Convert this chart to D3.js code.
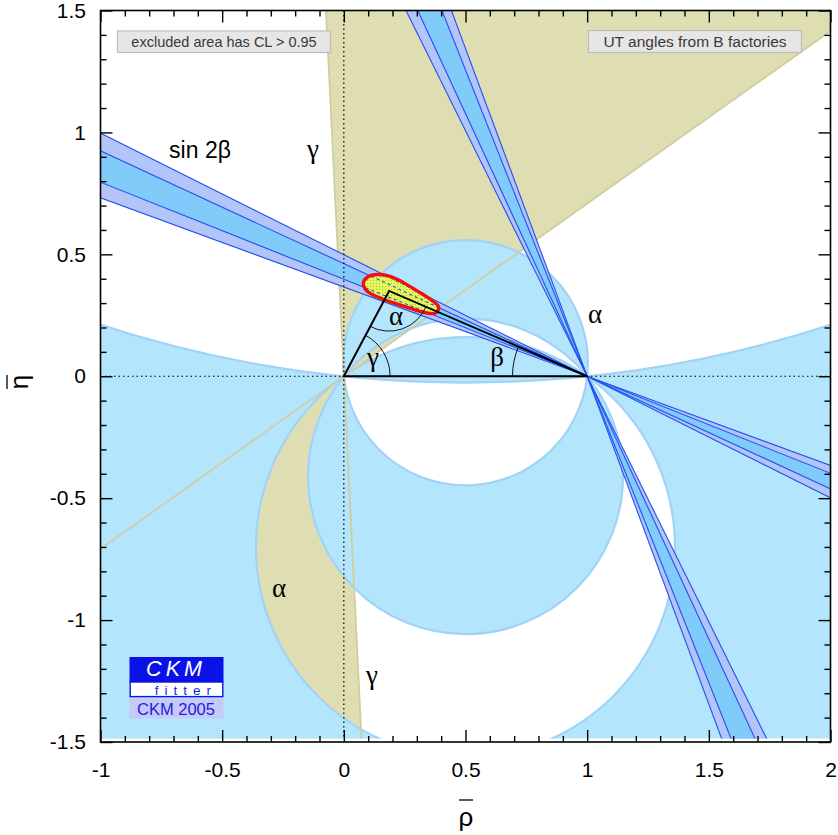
<!DOCTYPE html>
<html><head><meta charset="utf-8">
<script src="https://cdn.jsdelivr.net/npm/d3@7"></script>
<style>body{margin:0;background:#fff} svg{display:block}</style>
</head><body><svg id="c" width="838" height="835"></svg>
<script>
// ---------------- data ----------------
const rhoMajorTicks = [-1, -0.5, 0, 0.5, 1, 1.5, 2];
const rhoTickLabels = ["-1", "-0.5", "0", "0.5", "1", "1.5", "2"];
const etaMajorTicks = [-1.5, -1, -0.5, 0, 0.5, 1, 1.5];
const etaTickLabels = ["-1.5", "-1", "-0.5", "0", "0.5", "1", "1.5"];
// alpha allowed ranges (degrees, modulo 180)
const alphaBandsDeg = [[83.7, 129.4], [144.5, 185.9]];
// gamma allowed range (degrees) and its mirror (+180)
const gammaRangeDeg = [35.3, 92.8];
// sin2beta solutions (degrees): outer / inner bands
const beta1OuterDeg = [20.1, 26.5];
const beta1InnerDeg = [21.7, 24.8];
const beta2OuterDeg = [63.6, 69.6];
const beta2InnerDeg = [65.1, 68.3];
// best fit apex
const apexRho = 0.186, apexEta = 0.350;
// combined fit contour
const fitRho = [0.080, 0.098, 0.140, 0.190, 0.243, 0.298, 0.352, 0.390, 0.377, 0.328, 0.272, 0.216, 0.160, 0.112, 0.088];
const fitEta = [0.382, 0.407, 0.417, 0.410, 0.385, 0.352, 0.318, 0.284, 0.259, 0.262, 0.279, 0.297, 0.317, 0.338, 0.357];

// ---------------- setup ----------------
const svg = d3.select("#c");
const L = 100.5, R = 830.5, T = 10.5, B = 742;
const x = d3.scaleLinear([-1, 2], [L, R]);
const y = d3.scaleLinear([-1.5, 1.5], [B, T]);
const rad = d => d * Math.PI / 180;

const defs = svg.append("defs");
defs.append("clipPath").attr("id", "plot").append("rect")
  .attr("x", L).attr("y", T).attr("width", R - L).attr("height", 738.5 - T);
const pat = defs.append("pattern").attr("id", "dots").attr("patternUnits", "userSpaceOnUse")
  .attr("width", 3).attr("height", 3);
pat.append("rect").attr("width", 3).attr("height", 3).attr("fill", "#e8f65c");
pat.append("rect").attr("x", 1).attr("y", 1).attr("width", 1).attr("height", 1).attr("fill", "#9ccc3a");

const g = svg.append("g").attr("clip-path", "url(#plot)");

function circPath(c) {
  const r = Math.sqrt(0.25 + c * c);
  const cx = x(0.5), cy = y(c), rx = x(0.5 + r) - x(0.5), ry = y(c) - y(c + r);
  return `M${cx - rx},${cy}A${rx},${ry} 0 1 0 ${cx + rx},${cy}A${rx},${ry} 0 1 0 ${cx - rx},${cy}Z`;
}
const cOf = a => 0.5 / Math.tan(rad(a));
const bigRect = `M0,0H838V835H0Z`;

// gamma wedges (olive)
function wedge(ox, oy, a1, a2, Rr) {
  const p = [[ox, oy]];
  [a1, (a1 + a2) / 2, a2].forEach(a => p.push([ox + Rr * Math.cos(rad(a)), oy + Rr * Math.sin(rad(a))]));
  return "M" + p.map(q => x(q[0]) + "," + y(q[1])).join("L") + "Z";
}
[0, 180].forEach(off => {
  g.append("path").attr("d", wedge(0, 0, gammaRangeDeg[0] + off, gammaRangeDeg[1] + off, 12))
    .attr("fill", "#dfdeb2");
});

// alpha bands
alphaBandsDeg.forEach(([a1, a2]) => {
  let d;
  if (a2 <= 180) d = circPath(cOf(a1)) + circPath(cOf(a2));
  else d = bigRect + circPath(cOf(a1)) + circPath(cOf(a2 - 180));
  g.append("path").attr("d", d).attr("fill", "#b3e5fc").attr("fill-rule", "evenodd");
});
alphaBandsDeg.forEach(([a1, a2]) => {
  [a1, a2 > 180 ? a2 - 180 : a2].forEach(a => {
    g.append("path").attr("d", circPath(cOf(a))).attr("fill", "none")
      .attr("stroke", "#a2d2f7").attr("stroke-width", 2.2);
  });
});

// gamma edge lines
gammaRangeDeg.forEach(a => {
  const dx = Math.cos(rad(a)) * 12, dy = Math.sin(rad(a)) * 12;
  g.append("line").attr("x1", x(-dx)).attr("y1", y(-dy)).attr("x2", x(dx)).attr("y2", y(dy))
    .attr("stroke", "#cfcea0").attr("stroke-width", 1.8);
});

// sin2beta bands
function betaBand(b1, b2) {
  const P = [1, 0], Rr = 12;
  const d1 = [-Math.cos(rad(b1)), Math.sin(rad(b1))], d2 = [-Math.cos(rad(b2)), Math.sin(rad(b2))];
  const pt = (s, dd) => x(P[0] + s * Rr * dd[0]) + "," + y(P[1] + s * Rr * dd[1]);
  const p0 = x(P[0]) + "," + y(P[1]);
  return `M${pt(1, d1)}L${pt(1, d2)}L${p0}ZM${pt(-1, d1)}L${pt(-1, d2)}L${p0}Z`;
}
function betaLine(b) {
  const Rr = 12, dx = -Math.cos(rad(b)) * Rr, dy = Math.sin(rad(b)) * Rr;
  return [x(1 - dx), y(-dy), x(1 + dx), y(dy)];
}
[beta1OuterDeg, beta2OuterDeg].forEach(b => g.append("path").attr("d", betaBand(b[0], b[1])).attr("fill", "#b3c4f8"));
[beta1InnerDeg, beta2InnerDeg].forEach(b => g.append("path").attr("d", betaBand(b[0], b[1])).attr("fill", "#80cbfa"));
const allBetaEdges = [...beta1OuterDeg, ...beta1InnerDeg, ...beta2OuterDeg, ...beta2InnerDeg];
allBetaEdges.forEach(b => {
  const l = betaLine(b);
  g.append("line").attr("x1", l[0]).attr("y1", l[1]).attr("x2", l[2]).attr("y2", l[3])
    .attr("stroke", "#2250f0").attr("stroke-width", 1.1);
});

// fit contour
const fitPts = fitRho.map((r, i) => [x(r), y(fitEta[i])]);
const blobD = d3.line().curve(d3.curveCatmullRomClosed)(fitPts);
defs.append("clipPath").attr("id", "blob").append("path").attr("d", blobD);
g.append("path").attr("d", blobD).attr("fill", "url(#dots)");
const gb = g.append("g").attr("clip-path", "url(#blob)");
[...beta1OuterDeg, ...beta1InnerDeg].forEach(b => {
  const l = betaLine(b);
  gb.append("line").attr("x1", l[0]).attr("y1", l[1]).attr("x2", l[2]).attr("y2", l[3])
    .attr("stroke", "#2250f0").attr("stroke-width", 1.1).attr("stroke-dasharray", "3,3");
});
g.append("path").attr("d", blobD).attr("fill", "none").attr("stroke", "#f01010").attr("stroke-width", 3.4);

// dotted axes lines
g.append("line").attr("x1", x(0)).attr("x2", x(0)).attr("y1", T).attr("y2", B)
  .attr("stroke", "#000").attr("stroke-width", 1.2).attr("stroke-dasharray", "1.5,3");
g.append("line").attr("x1", L).attr("x2", R).attr("y1", y(0)).attr("y2", y(0))
  .attr("stroke", "#000").attr("stroke-width", 1.2).attr("stroke-dasharray", "1.5,3");

// triangle
g.append("path").attr("d", `M${x(0)},${y(0)}L${x(apexRho)},${y(apexEta)}L${x(1)},${y(0)}Z`)
  .attr("fill", "none").attr("stroke", "#000").attr("stroke-width", 2).attr("stroke-linejoin", "miter");
function arcPath(cx, cy, r, a0, a1) {
  const p0 = [x(cx + r * Math.cos(rad(a0))), y(cy + r * Math.sin(rad(a0)))];
  const p1 = [x(cx + r * Math.cos(rad(a1))), y(cy + r * Math.sin(rad(a1)))];
  const rp = x(r) - x(0);
  return `M${p0}A${rp},${rp} 0 0 0 ${p1}`;
}
const gam = Math.atan2(apexEta, apexRho) * 180 / Math.PI;
const bet = Math.atan2(apexEta, 1 - apexRho) * 180 / Math.PI;
const toA = Math.atan2(-apexEta, -apexRho) * 180 / Math.PI + 360;
const toB = Math.atan2(-apexEta, 1 - apexRho) * 180 / Math.PI + 360;
[[0, 0, 0.19, 0, gam], [1, 0, 0.307, 180 - bet, 180], [apexRho, apexEta, 0.165, toA, toB]].forEach(a => {
  g.append("path").attr("d", arcPath(...a)).attr("fill", "none").attr("stroke", "#000").attr("stroke-width", 0.9);
});

// greek labels
const greek = (px, py, t, fs) => svg.append("text").attr("x", px).attr("y", py).text(t)
  .attr("font-family", "Liberation Serif, serif").attr("font-size", fs || 27).attr("text-anchor", "middle").attr("fill", "#000");
greek(396, 325, "α");
greek(373, 366, "γ");
greek(497, 366, "β");
greek(595, 323, "α");
greek(313, 158, "γ");
greek(279, 597, "α");
greek(372, 684, "γ");
svg.append("text").attr("x", 200).attr("y", 158).text("sin 2β").attr("font-family", "Liberation Sans, Arial, sans-serif")
  .attr("font-size", 23).attr("text-anchor", "middle").attr("fill", "#000");

// ---------------- axes ----------------
const fontAx = "Liberation Sans, Arial, sans-serif";
const minorR = d3.range(-10, 21).map(i => i / 10).filter(v => Math.abs(v * 2 - Math.round(v * 2)) > 1e-6);
const minorE = d3.range(-15, 16).map(i => i / 10).filter(v => Math.abs(v * 2 - Math.round(v * 2)) > 1e-6);
function addAxis(axisFn, scale, major, labels, minor, tr, labeled) {
  const a = axisFn(scale).tickValues(major).tickSizeInner(-12).tickSizeOuter(0)
    .tickFormat((d, i) => labeled ? labels[i] : "").tickPadding(labeled ? 20 : 0);
  const ga = svg.append("g").attr("transform", tr).call(a);
  ga.select(".domain").remove();
  const m = axisFn(scale).tickValues(minor).tickSizeInner(-6).tickSizeOuter(0).tickFormat("");
  const gm = svg.append("g").attr("transform", tr).call(m);
  gm.select(".domain").remove();
  [ga, gm].forEach(q => q.selectAll("line").attr("stroke", "#000").attr("stroke-width", 1.4));
  ga.selectAll("text").attr("font-family", fontAx).attr("font-size", 21).attr("fill", "#000");
  return ga;
}
addAxis(d3.axisBottom, x, rhoMajorTicks, rhoTickLabels, minorR, `translate(0,${B})`, true);
addAxis(d3.axisTop, x, rhoMajorTicks, rhoTickLabels, minorR, `translate(0,${T})`, false);
const gl = addAxis(d3.axisLeft, y, etaMajorTicks, etaTickLabels, minorE, `translate(${L},0)`, true);
gl.selectAll("text").attr("x", -14.5);
addAxis(d3.axisRight, y, etaMajorTicks, etaTickLabels, minorE, `translate(${R},0)`, false);
svg.append("rect").attr("x", L).attr("y", T).attr("width", R - L).attr("height", B - T)
  .attr("fill", "none").attr("stroke", "#000").attr("stroke-width", 1.6);

// axis titles
svg.append("text").attr("x", 466).attr("y", 826).text("ρ").attr("font-family", fontAx)
  .attr("font-size", 26).attr("text-anchor", "middle");
svg.append("line").attr("x1", 459).attr("x2", 473).attr("y1", 800).attr("y2", 800).attr("stroke", "#000").attr("stroke-width", 1.3);
const ge = svg.append("g").attr("transform", "translate(28,382) rotate(-90)");
ge.append("text").attr("x", 0).attr("y", 0).text("η").attr("font-family", fontAx).attr("font-size", 26).attr("text-anchor", "middle");
ge.append("line").attr("x1", -7).attr("x2", 7).attr("y1", -21).attr("y2", -21).attr("stroke", "#000").attr("stroke-width", 1.3);

// ---------------- boxes ----------------
function box(x0, y0, w, h, t, fs) {
  svg.append("rect").attr("x", x0).attr("y", y0).attr("width", w).attr("height", h)
    .attr("fill", "#e6e6e6").attr("stroke", "#bcbcbc").attr("stroke-width", 1.2);
  svg.append("text").attr("x", x0 + w / 2).attr("y", y0 + h / 2 + fs * 0.36).text(t)
    .attr("font-family", fontAx).attr("font-size", fs).attr("fill", "#3a3a3a").attr("text-anchor", "middle");
}
box(117.5, 31, 213, 21.5, "excluded area has CL > 0.95", 14.5);
box(588.5, 30.5, 213, 22, "UT angles from B factories", 15.5);

// logo
svg.append("rect").attr("x", 129.5).attr("y", 657).attr("width", 94).attr("height", 25).attr("fill", "#0a12e8");
svg.append("text").attr("x", 176).attr("y", 676).text("CKM").attr("font-family", fontAx).attr("font-style", "italic")
  .attr("font-size", 21.5).attr("letter-spacing", 4).attr("fill", "#fff").attr("text-anchor", "middle");
svg.append("rect").attr("x", 130.2).attr("y", 682).attr("width", 92.6).attr("height", 14.6).attr("fill", "#fff")
  .attr("stroke", "#0a12e8").attr("stroke-width", 1.4);
svg.append("text").attr("x", 186).attr("y", 694.5).text("fitter").attr("font-family", fontAx)
  .attr("font-size", 13.5).attr("letter-spacing", 6).attr("fill", "#1a2ae6").attr("text-anchor", "middle");
svg.append("rect").attr("x", 129.5).attr("y", 698.5).attr("width", 94).attr("height", 20).attr("fill", "#c8c8fa");
svg.append("text").attr("x", 176).attr("y", 714.5).text("CKM 2005").attr("font-family", fontAx)
  .attr("font-size", 16.5).attr("fill", "#1a22e0").attr("text-anchor", "middle");
</script></body></html>
